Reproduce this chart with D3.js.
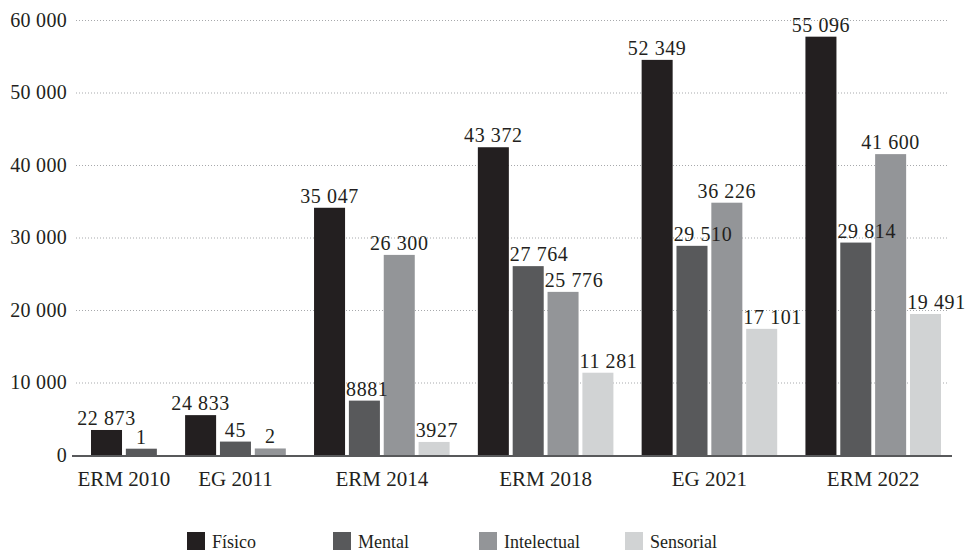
<!DOCTYPE html>
<html>
<head>
<meta charset="utf-8">
<script src="https://cdn.jsdelivr.net/npm/d3@7"></script>
<style>
  html, body { margin: 0; padding: 0; background: #ffffff; }
  svg { display: block; }
  svg text { font-family: 'Liberation Serif', 'DejaVu Serif', 'Noto Serif', serif; fill: #231f20; }
</style>
</head>
<body>
<svg id="chart" width="966" height="553"></svg>
<script>
// ---------------- DATA ----------------
const categories = ["ERM 2010", "EG 2011", "ERM 2014", "ERM 2018", "EG 2021", "ERM 2022"];
const seriesNames = ["Físico", "Mental", "Intelectual", "Sensorial"];

// bar heights as drawn in the picture (null = no bar)
const fisicoBars      = [3450, 5500, 34100, 42450, 54500, 57700];
const mentalBars      = [870, 1850, 7500, 26050, 28850, 29300];
const intelectualBars = [null, 900, 27600, 22500, 34800, 41500];
const sensorialBars   = [null, null, 1800, 11350, 17400, 19450];

// values printed on the bars
const fisicoLabels      = [22873, 24833, 35047, 43372, 52349, 55096];
const mentalLabels      = [1, 45, 8881, 27764, 29510, 29814];
const intelectualLabels = [null, 2, 26300, 25776, 36226, 41600];
const sensorialLabels   = [null, null, 3927, 11281, 17101, 19491];

const yTicks = [0, 10000, 20000, 30000, 40000, 50000, 60000];

// ---------------- STYLE / LAYOUT ----------------
const FONT = "'Liberation Serif', 'DejaVu Serif', 'Noto Serif', serif";
const colors = ["#231f20", "#58595b", "#939598", "#d1d3d4"];
const barSeries = [fisicoBars, mentalBars, intelectualBars, sensorialBars];
const labelSeries = [fisicoLabels, mentalLabels, intelectualLabels, sensorialLabels];

const svg = d3.select("#chart");
const plot = { left: 76, right: 947, top: 20, bottom: 455 };
const groupGap = 0.7;   // extra space between groups, in bar-slot units
const barFill = 0.89;   // bar width as share of a slot

const loc = d3.formatLocale({ decimal: ",", thousands: " ", grouping: [3], currency: ["", ""] });
const fmtGroup = loc.format(",d");
const fmt = v => (v >= 10000 ? fmtGroup(v) : String(v));

// build bar records
const bars = [];
let slot = 0;
categories.forEach((cat, j) => {
  barSeries.forEach((arr, i) => {
    if (arr[j] != null) {
      bars.push({ cat, j, i, value: arr[j], label: labelSeries[i][j], unit: slot + j * groupGap });
      slot++;
    }
  });
});
const totalUnits = (slot - 1) + barFill + (categories.length - 1) * groupGap;

const x = d3.scaleLinear().domain([0, totalUnits]).range([91, 941]);
const y = d3.scaleLinear().domain([0, 60000]).range([plot.bottom, plot.top]);

// gridlines + y tick labels
const yAxis = d3.axisLeft(y)
  .tickValues(yTicks)
  .tickSizeInner(-(plot.right - plot.left))
  .tickSizeOuter(0)
  .tickPadding(9)
  .tickFormat(d => (d === 0 ? "0" : fmtGroup(d)));

const gy = svg.append("g").attr("transform", `translate(${plot.left},0)`).call(yAxis)
  .attr("font-family", FONT);
gy.select(".domain").remove();
gy.selectAll(".tick line")
  .attr("stroke", "#a7a9ac")
  .attr("stroke-width", 1)
  .attr("stroke-dasharray", "1,2")
  .filter(d => d === 0).remove();
gy.selectAll(".tick text")
  .attr("font-size", 20)
  .attr("font-family", FONT)
  .attr("fill", "#231f20")
  .style("letter-spacing", "0.3px");

// bars
const bw = x(barFill) - x(0);
svg.append("g").selectAll("rect").data(bars).join("rect")
  .attr("x", d => x(d.unit))
  .attr("width", bw)
  .attr("y", d => y(d.value))
  .attr("height", d => y(0) - y(d.value))
  .attr("fill", d => colors[d.i]);

// baseline
svg.append("line")
  .attr("x1", 72).attr("x2", 952)
  .attr("y1", y(0) + 1).attr("y2", y(0) + 1)
  .attr("stroke", "#58595b").attr("stroke-width", 2);

// value labels (shifted right when the left neighbour bar is in the way)
const lblG = svg.append("g").attr("font-family", FONT);
bars.forEach((d, idx) => {
  const t = lblG.append("text")
    .attr("font-size", 20)
    .attr("font-family", FONT)
    .attr("text-anchor", "middle")
    .style("letter-spacing", "0.6px")
    .text(fmt(d.label));
  const w = t.node().getComputedTextLength();
  const base = y(d.value) - 5;
  let cx = x(d.unit) + bw / 2;
  const prev = bars[idx - 1];
  if (prev && prev.j === d.j) {
    const prevTop = y(prev.value);
    if (prevTop < base) {
      const minC = x(prev.unit) + bw + 1 + w / 2;
      if (cx < minC) cx = minC;
    }
  }
  t.attr("x", cx).attr("y", base);
});

// category labels
categories.forEach((cat, j) => {
  const gb = bars.filter(b => b.j === j);
  const c = (x(gb[0].unit) + x(gb[gb.length - 1].unit) + bw) / 2;
  svg.append("text")
    .attr("x", c).attr("y", 486)
    .attr("font-size", 21)
    .attr("font-family", FONT)
    .attr("text-anchor", "middle")
    .text(cat);
});

// legend
const lx = d3.scalePoint().domain(seriesNames).range([187, 625]);
const lg = svg.append("g").selectAll("g").data(seriesNames).join("g")
  .attr("transform", d => `translate(${lx(d)},532)`);
lg.append("rect").attr("width", 18).attr("height", 18).attr("fill", (d, i) => colors[i]);
lg.append("text").attr("x", 25).attr("y", 16).attr("font-size", 18)
  .attr("font-family", FONT).text(d => d);
</script>
</body>
</html>
